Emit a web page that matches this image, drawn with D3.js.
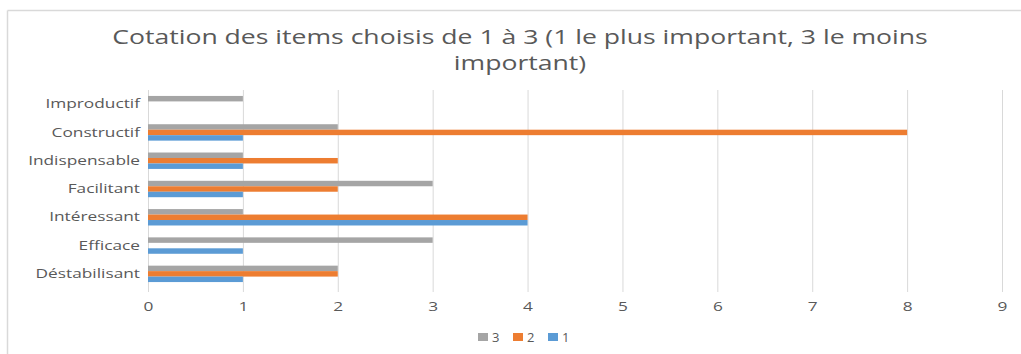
<!DOCTYPE html>
<head>
<meta charset="utf-8">
<title>Cotation des items</title>
<style>
body {
  margin: 0;
  font-family: "Open Sans", Arial, sans-serif;
  background: #fff;
}
.axis text {
  font-family: "Open Sans", Arial, sans-serif;
  fill: #595959;
}
.grid line {
  stroke: #d9d9d9;
}
</style>
<script src="https://d3js.org/d3.v7.min.js"></script>
</head>
<body>
<script>
// data
var categories = ["Improductif", "Constructif", "Indispensable", "Facilitant", "Intéressant", "Efficace", "Déstabilisant"];
var series = ["3", "2", "1"];
var values3 = [1, 2, 1, 3, 1, 3, 2];
var values2 = [0, 8, 2, 2, 4, 0, 2];
var values1 = [0, 1, 1, 1, 4, 1, 1];
var colors = ["#a5a5a5", "#ed7d31", "#5b9bd5"];
var xTicks = [0, 1, 2, 3, 4, 5, 6, 7, 8, 9];

var width = 1021, height = 354;
var plot = { left: 148, right: 1002, top: 90, bottom: 288 };
var stretch = 1.33; // the reference text looks wide, stretch it horizontally

var svg = d3.select("body").append("svg")
    .attr("width", width)
    .attr("height", height);

// chart frame (top and left edges visible)
svg.append("line").attr("x1", 7.5).attr("x2", width).attr("y1", 10.5).attr("y2", 10.5)
    .attr("stroke", "#d9d9d9").attr("stroke-width", 1.5);
svg.append("line").attr("x1", 7.5).attr("x2", 7.5).attr("y1", 10.5).attr("y2", height)
    .attr("stroke", "#d9d9d9").attr("stroke-width", 1.5);

// title
var title = svg.append("g")
    .attr("transform", "translate(520,0) scale(" + stretch + ",1)")
    .append("text")
    .attr("text-anchor", "middle")
    .attr("fill", "#595959")
    .style("font-size", "20px");
title.append("tspan").attr("x", 0).attr("y", 44)
    .text("Cotation des items choisis de 1 à 3 (1 le plus important, 3 le moins");
title.append("tspan").attr("x", 0).attr("y", 70)
    .text("important)");

var xScale = d3.scaleLinear().domain([0, 9]).range([plot.left, plot.right]);
var yScale = d3.scaleBand().domain(categories).range([plot.top, plot.bottom]).paddingInner(0.42).paddingOuter(0.21);
var ySub = d3.scaleBand().domain(series).range([0, yScale.bandwidth()]);

// gridlines
svg.append("g").attr("class", "grid")
    .selectAll("line")
    .data(xTicks)
    .enter().append("line")
    .attr("x1", function(d) { return xScale(d) + 0.5; })
    .attr("x2", function(d) { return xScale(d) + 0.5; })
    .attr("y1", plot.top)
    .attr("y2", plot.bottom + 4);

// bars
var table = categories.map(function(c, i) {
  return { name: c, vals: [values3[i], values2[i], values1[i]] };
});
var groups = svg.append("g").selectAll("g")
    .data(table)
    .enter().append("g")
    .attr("transform", function(d) { return "translate(0," + yScale(d.name) + ")"; });
groups.selectAll("rect")
    .data(function(d) { return d.vals.map(function(v, j) { return { s: series[j], v: v, c: colors[j] }; }); })
    .enter().append("rect")
    .attr("x", xScale(0))
    .attr("y", function(d) { return ySub(d.s); })
    .attr("height", ySub.bandwidth())
    .attr("width", function(d) { return xScale(d.v) - xScale(0); })
    .attr("fill", function(d) { return d.c; });

// x axis
var xAxis = svg.append("g")
    .attr("class", "axis")
    .attr("transform", "translate(0," + plot.bottom + ")")
    .call(d3.axisBottom(xScale).tickValues(xTicks).tickSize(0).tickPadding(14));
xAxis.select(".domain").remove();
xAxis.selectAll("text").style("font-size", "13px")
    .attr("transform", "scale(" + stretch + ",1)")
    .attr("x", 0);

// y axis
var yAxis = svg.append("g")
    .attr("class", "axis")
    .attr("transform", "translate(" + plot.left + ",0)")
    .call(d3.axisLeft(yScale).tickSize(0).tickPadding(6));
yAxis.select(".domain").remove();
yAxis.selectAll("text").style("font-size", "13px")
    .attr("transform", "scale(" + stretch + ",1)");

// legend
var legend = svg.append("g").attr("transform", "translate(478,337)");
var item = legend.selectAll("g")
    .data(series)
    .enter().append("g")
    .attr("transform", function(d, i) { return "translate(" + (i * 35) + ",0)"; });
item.append("rect")
    .attr("x", 0).attr("y", -4)
    .attr("width", 10).attr("height", 8)
    .attr("fill", function(d, i) { return colors[i]; });
item.append("text")
    .attr("x", 14).attr("y", 5)
    .attr("fill", "#595959")
    .style("font-size", "13px")
    .attr("transform", "scale(1,1)")
    .text(function(d) { return d; });
</script>
</body>
